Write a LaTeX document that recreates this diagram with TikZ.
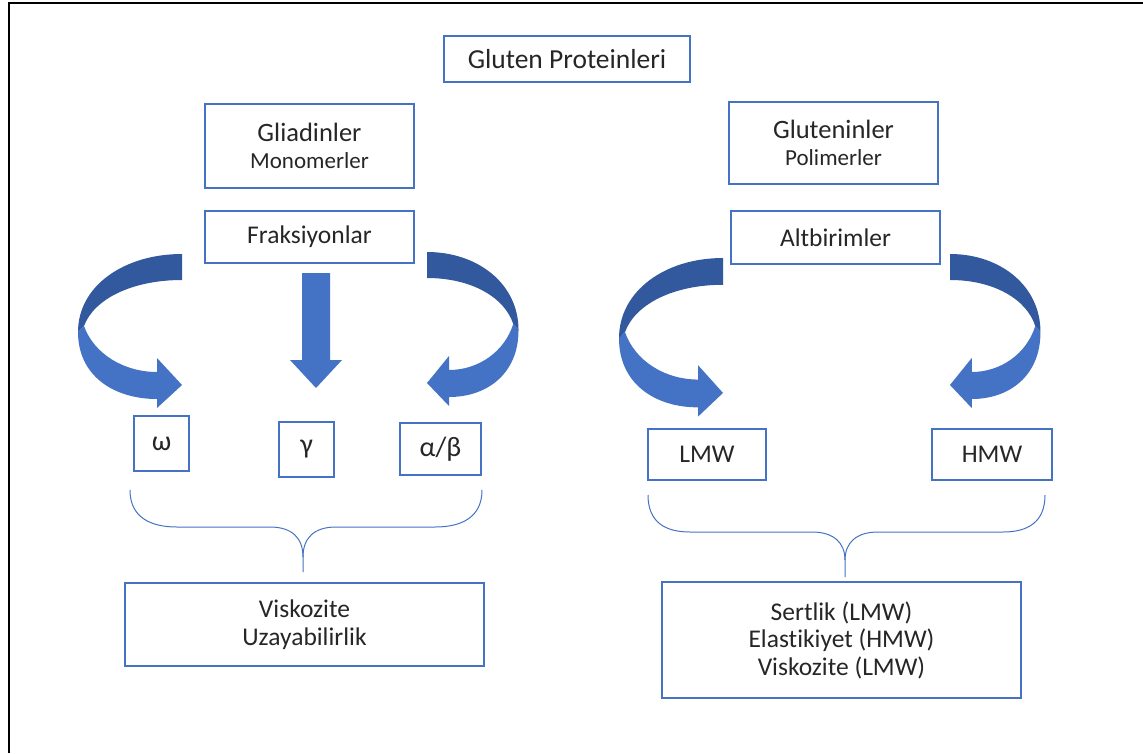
\documentclass[tikz,border=0pt]{standalone}
\usepackage{fontspec}
\setmainfont{Carlito}[Ligatures=NoCommon]
\definecolor{obl}{RGB}{68,114,196}
\definecolor{odk}{RGB}{50,88,158}
\definecolor{txt}{RGB}{38,38,38}
\tikzset{
  box/.style={draw=obl, line width=1.3pt, text=txt, align=center, inner sep=0pt,
    font=\fontsize{25.5}{27.5}\selectfont},
  greek/.style={font=\fontsize{28}{30}\selectfont},
  brace/.style={draw=obl, line width=1pt},
  pics/carrow/.style={code={
    \fill[odk] (0,0) .. controls (-58,0) and (-104,32) .. (-104,78) -- (-98,72)
       .. controls (-88,45) and (-50,26) .. (0,26) -- cycle;
    \fill[obl] (-104,78) .. controls (-104,122) and (-68,145) .. (-25,145)
       -- (-25,154) -- (0,131) -- (-25,104) -- (-25,118)
       .. controls (-58,118) and (-88,100) .. (-98,72) -- cycle;
  }}
}
\begin{document}
\begin{tikzpicture}[x=1pt,y=-1pt]
\useasboundingbox (0,0) rectangle (1143,753);
\fill[white] (0,0) rectangle (1143,753);
\draw[line width=2.5pt] (9,753) -- (9,3) -- (1143,3);

\node[box, minimum width=246pt, minimum height=46pt, font=\fontsize{27.5}{29}\selectfont] (gp) at (567,59) {Gluten Proteinleri};
\node[box, minimum width=209pt, minimum height=84pt] (gli) at (309.5,146)
  {{\fontsize{26.5}{28}\selectfont Gliadinler}\\[-1pt]{\fontsize{23}{25}\selectfont Monomerler}};
\node[box, minimum width=209pt, minimum height=52pt] (fr) at (309.5,237) {Fraksiyonlar};
\node[box, minimum width=209pt, minimum height=82pt] (glu) at (833.5,143)
  {{\fontsize{26.5}{28}\selectfont Gluteninler}\\[-1pt]{\fontsize{23}{25}\selectfont Polimerler}};
\node[box, minimum width=209pt, minimum height=53pt] (alt) at (835.5,237.5) {Altbirimler};

\node[box, greek, minimum width=55pt, minimum height=55pt] (om) at (161.5,443.5) {ω};
\node[box, greek, minimum width=55pt, minimum height=55pt] (ga) at (306.5,449.5) {γ};
\node[box, greek, minimum width=81pt, minimum height=52pt] (ab) at (440.5,449) {α/β};
\node[box, minimum width=118pt, minimum height=51pt] (lmw) at (707,454.5) {LMW};
\node[box, minimum width=120pt, minimum height=51pt] (hmw) at (992,454.5) {HMW};

\node[box, minimum width=359pt, minimum height=83pt] (visk) at (304.5,624.5) {Viskozite\\Uzayabilirlik};
\node[box, minimum width=359pt, minimum height=116pt] (sert) at (841.5,640) {Sertlik (LMW)\\Elastikiyet (HMW)\\Viskozite (LMW)};

% block arrows
\pic at (182,254) {carrow};
\pic[xscale=-0.88] at (427,252) {carrow};
\pic[yscale=1.03] at (723,258) {carrow};
\pic[xscale=-0.87] at (950,254) {carrow};
\fill[obl] (302,273) -- (330,273) -- (330,360) -- (342,360) -- (316,388) -- (290,360) -- (302,360) -- cycle;

% braces
\coordinate (lb) at (303,572);
\coordinate (rb) at (845,577);
\draw[brace] (130,490) .. controls (130,517) and (150,527) .. (177,527) -- (270,527)
  .. controls (292,527) and (303,538) .. (303,557) -- (lb);
\draw[brace] (482,490) .. controls (482,517) and (462,527) .. (435,527) -- (336,527)
  .. controls (314,527) and (303,538) .. (303,557);
\draw[brace] (648,495) .. controls (648,522) and (665,532) .. (690,532) -- (812,532)
  .. controls (834,532) and (845,543) .. (845,560) -- (rb);
\draw[brace] (1045,495) .. controls (1045,522) and (1028,532) .. (1003,532) -- (878,532)
  .. controls (856,532) and (845,543) .. (845,560);
\end{tikzpicture}
\end{document}
